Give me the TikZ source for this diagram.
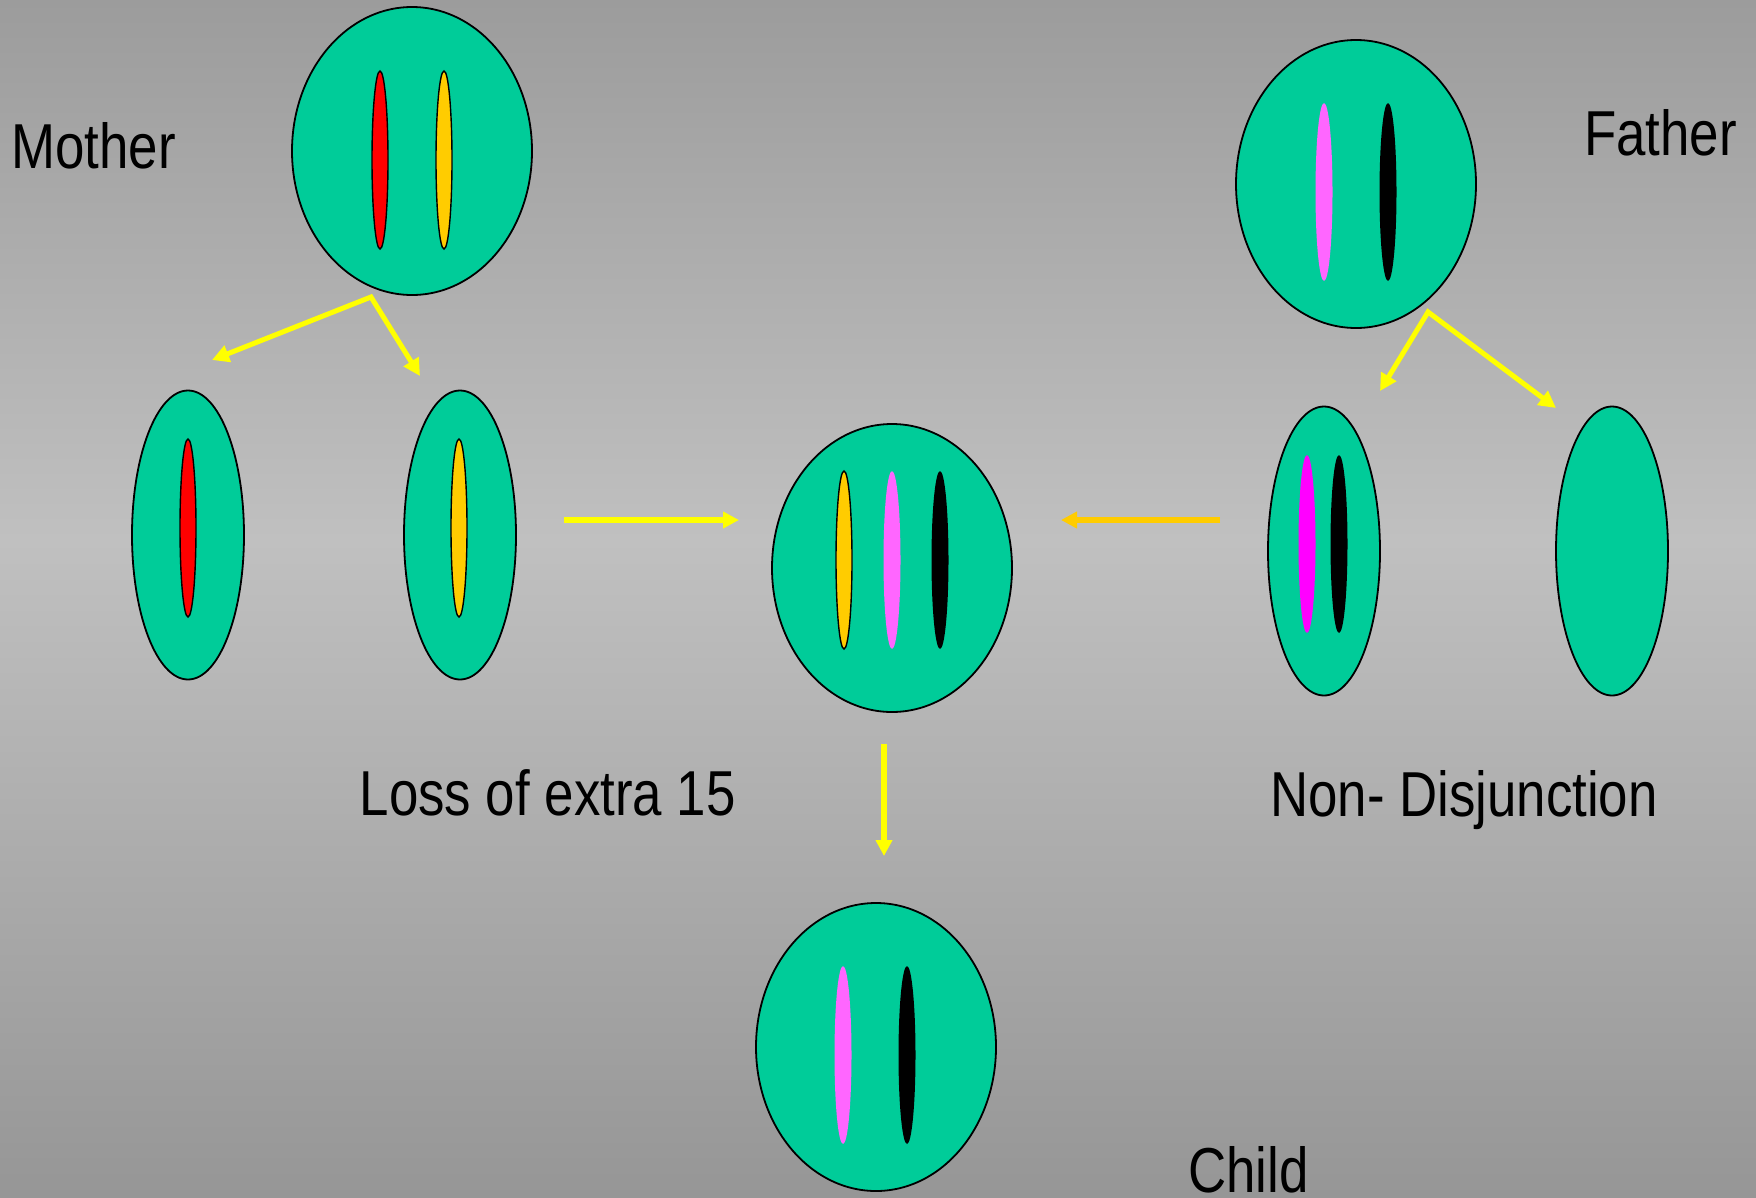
\documentclass[tikz,border=0pt]{standalone}
\usepackage{fontspec}
\newfontfamily\lblfont[FakeStretch=0.832]{Liberation Sans}
\usetikzlibrary{arrows.meta,shapes.geometric}

\definecolor{cellgreen}{HTML}{00CC99}
\definecolor{chred}{HTML}{FF0000}
\definecolor{chyellow}{HTML}{FFCC00}
\definecolor{chpink}{HTML}{FF66FF}
\definecolor{chmagenta}{HTML}{FF00FF}
\definecolor{arrowyellow}{HTML}{FFFF00}
\definecolor{arroworange}{HTML}{FFCC00}
\definecolor{bgtop}{HTML}{9C9C9C}
\definecolor{bglight}{HTML}{C0C0C0}
\definecolor{bgbottom}{HTML}{969696}

\tikzset{splittip/.tip={Triangle[length=17pt,width=17pt]}}

\begin{document}
\begin{tikzpicture}[x=1pt,y=-1pt,
  cell/.style={draw=black, line width=1.8pt, fill=cellgreen, ellipse, inner sep=0pt, outer sep=0pt},
  bigcell/.style={cell, minimum width=240pt, minimum height=288pt},
  smallcell/.style={cell, minimum width=112pt, minimum height=289pt},
  chromo/.style={ellipse, inner sep=0pt, outer sep=0pt, minimum width=16pt, minimum height=178pt},
  outlined/.style={chromo, draw=black, line width=1.4pt},
  plain/.style={chromo, draw=none},
  link/.style={draw=arrowyellow, line width=5pt, line join=miter, splittip-splittip},
  straight/.style={line width=6pt, -{Triangle[length=16pt,width=16pt]}},
  lbl/.style={font=\lblfont\fontsize{63.5}{70}\selectfont, text=black, inner sep=0pt, anchor=base west}
]
% canvas with a soft vertical gradient
\useasboundingbox (0,0) rectangle (1756,1197);
\shade[top color=bgtop, bottom color=bglight] (0,0) rectangle (1756,541);
\shade[top color=bglight, bottom color=bgbottom] (0,540) rectangle (1756,1197);

% mother and her two gametes
\node[bigcell] (mother) at (412,151) {};
\node[outlined, fill=chred] (mred) at (380,160) {};
\node[outlined, fill=chyellow] (myellow) at (444,160) {};

\node[smallcell] (mg1) at (188,535) {};
\node[outlined, fill=chred] (mg1red) at (188,528) {};
\node[smallcell] (mg2) at (460,535) {};
\node[outlined, fill=chyellow] (mg2yellow) at (459,528) {};

% father and his two gametes (non-disjunction)
\node[bigcell] (father) at (1356,184) {};
\node[plain, fill=chpink, minimum width=17pt] (fpink) at (1324,192) {};
\node[plain, fill=black, minimum width=17pt] (fblack) at (1388,192) {};

\node[smallcell] (fg1) at (1324,551) {};
\node[plain, fill=chmagenta, minimum width=17pt] (fg1mag) at (1307,544) {};
\node[plain, fill=black, minimum width=17pt] (fg1black) at (1339,544) {};
\node[smallcell] (fg2) at (1612,551) {};

% zygote with three copies
\node[bigcell] (zygote) at (892,568) {};
\node[outlined, fill=chyellow] (zyellow) at (844,560) {};
\node[plain, fill=chpink, minimum width=17pt] (zpink) at (892,560) {};
\node[plain, fill=black, minimum width=17pt] (zblack) at (940,560) {};

% child after losing the extra copy
\node[bigcell] (child) at (876,1047) {};
\node[plain, fill=chpink, minimum width=17pt] (cpink) at (843,1055) {};
\node[plain, fill=black, minimum width=17pt] (cblack) at (907,1055) {};

% arrow end points
\coordinate (msplit) at (371,297);
\coordinate (mtipL) at (212,360);
\coordinate (mtipR) at (420,376);
\coordinate (fsplit) at (1428,312);
\coordinate (ftipL) at (1380,391);
\coordinate (ftipR) at (1556,408);
\coordinate (inA) at (564,520);
\coordinate (inAend) at (739,520);
\coordinate (inB) at (1220,520);
\coordinate (inBend) at (1061,520);
\coordinate (down) at (884,744);
\coordinate (downend) at (884,856);

% connectors
\draw[link] (mtipL) -- (msplit) -- (mtipR);
\draw[link] (ftipL) -- (fsplit) -- (ftipR);
\draw[straight, draw=arrowyellow] (inA) -- (inAend);
\draw[straight, draw=arroworange] (inB) -- (inBend);
\draw[straight, draw=arrowyellow] (down) -- (downend);

% labels
\node[lbl] (tmother) at (11,168.3) {Mother};
\node[lbl] (tfather) at (1584,155.5) {Father};
\node[lbl] (tloss) at (359.5,815.7) {Loss of extra 15};
\node[lbl] (tnondis) at (1270,816) {Non- Disjunction};
\node[lbl] (tchild) at (1188,1192.3) {Child};
\end{tikzpicture}
\end{document}
